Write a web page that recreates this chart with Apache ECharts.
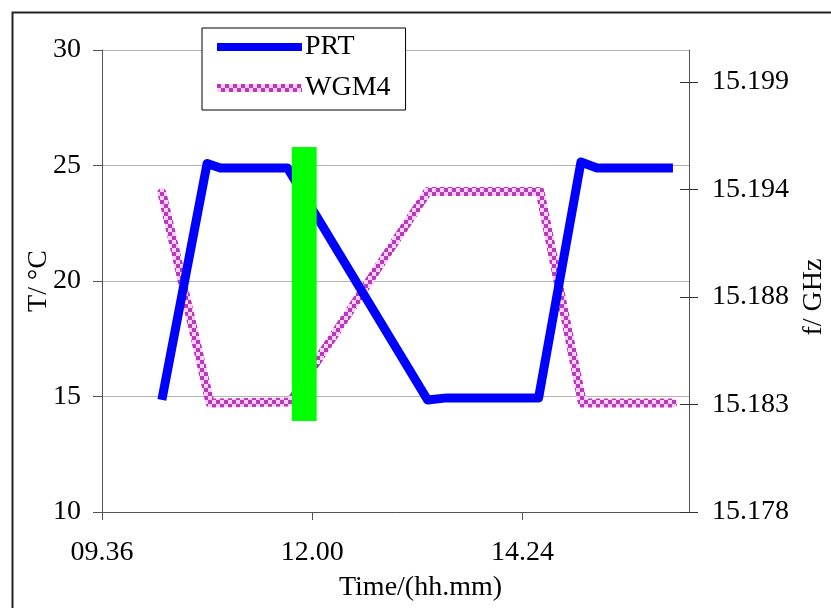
<!DOCTYPE html>
<html>
<head>
<meta charset="utf-8">
<script src="https://cdn.jsdelivr.net/npm/echarts@6/dist/echarts.min.js"></script>
<style>
html,body{margin:0;padding:0;background:#fff;}
#chart{width:831px;height:608px;}
</style>
</head>
<body>
<div id="chart"></div>
<script>
// ---- data (time as hh:mm) ----
var prtTimes = ['10:17','10:48','10:57','11:43','13:19','13:32','14:35','15:04','15:15','16:07'];
var prtValues = [14.85, 25.09, 24.89, 24.89, 14.85, 14.94, 14.94, 25.15, 24.89, 24.89];

var wgmTimes = ['10:17','10:50','11:45','13:19','14:36','15:05','16:07'];
var wgmValues = [15.19354, 15.18297, 15.18302, 15.19359, 15.19359, 15.18297, 15.18297];

var xTickTimes = ['09:36','12:00','14:24'];
var xRange = ['09:36','16:18'];
var leftTicks = [10, 15, 20, 25, 30];
var rightTickValues = [15.1775, 15.1829, 15.1883, 15.1937, 15.1991];
var rightTickLabels = ['15.178','15.183','15.188','15.194','15.199'];
var rightRange = [15.1775, 15.2007];
var marker = { start: '11:46', end: '12:03', low: 13.94, high: 25.8 };

function toMin(t){ var p = t.split(':'); return (+p[0])*60 + (+p[1]); }
function fmtMin(m){ var h = Math.floor(m/60), mm = Math.round(m%60); return (h<10?'0':'')+h+'.'+(mm<10?'0':'')+mm; }

var prtData = prtTimes.map(function(t,i){ return [toMin(t), prtValues[i]]; });
var wgmData = wgmTimes.map(function(t,i){ return [toMin(t), wgmValues[i]]; });
var xTicks = xTickTimes.map(toMin);

// checker pattern
var pc = document.createElement('canvas');
pc.width = 8; pc.height = 8;
var cx = pc.getContext('2d');
cx.fillStyle = '#ffccff'; cx.fillRect(0,0,8,8);
cx.fillStyle = '#b43cb4'; cx.fillRect(0,0,4,4); cx.fillRect(4,4,4,4);
var checker = { image: pc, repeat: 'repeat' };

var FONT = 'Liberation Serif';
var chart = echarts.init(document.getElementById('chart'), null, {renderer:'canvas'});
chart.setOption({
  animation: false,
  backgroundColor: '#fff',
  textStyle: { fontFamily: FONT, color: '#000' },
  grid: { left: 102, top: 50, width: 587, height: 462, containLabel: false, outerBoundsMode: 'none' },
  legend: {
    data: ['PRT','WGM4'],
    orient: 'vertical', left: 202, top: 28,
    backgroundColor: '#fff',
    borderColor: '#000', borderWidth: 1,
    padding: [5, 15, 8, 15],
    itemGap: 13, itemWidth: 85, itemHeight: 8,
    icon: 'rect',
    textStyle: { fontFamily: FONT, fontSize: 28, color: '#000', padding: [0,0,0,-2] }
  },
  graphic: [{
    type: 'rect', left: 10, top: 10, silent: true, z: 100,
    shape: { x: 0, y: 0, width: 900, height: 700 },
    style: { fill: 'none', stroke: '#222', lineWidth: 2 }
  }],
  xAxis: {
    type: 'value', min: toMin(xRange[0]), max: toMin(xRange[1]), interval: 144,
    name: 'Time/(hh.mm)', nameLocation: 'middle', nameGap: 62,
    nameTextStyle: { fontFamily: FONT, fontSize: 28, color: '#000', padding: [0,0,0,50] },
    axisLine: { show: true, onZero: false, lineStyle: { color: '#555', width: 1 } },
    axisTick: { show: true, length: 8, customValues: xTicks, lineStyle: { color: '#555' } },
    axisLabel: { customValues: xTicks, margin: 27, fontFamily: FONT, fontSize: 28, color: '#000',
      formatter: function(v){ return xTicks.indexOf(v) >= 0 ? fmtMin(v) : ''; } },
    splitLine: { show: false }
  },
  yAxis: [{
    type: 'value', min: leftTicks[0], max: leftTicks[leftTicks.length-1], interval: 5,
    position: 'left',
    name: 'T/ °C', nameLocation: 'middle', nameGap: 49, nameRotate: 90, nameMoveOverlap: false,
    nameTextStyle: { fontFamily: FONT, fontSize: 28, color: '#000' },
    axisLine: { show: true, lineStyle: { color: '#555', width: 1 } },
    axisTick: { show: true, length: 9, lineStyle: { color: '#555' } },
    axisLabel: { margin: 21, fontFamily: FONT, fontSize: 28, color: '#000' },
    splitLine: { show: true, lineStyle: { color: '#b4b4b4', width: 1 } }
  }, {
    type: 'value', min: rightRange[0], max: rightRange[1],
    position: 'right',
    name: 'f/ GHz', nameLocation: 'middle', nameGap: 109, nameRotate: 90,
    nameTextStyle: { fontFamily: FONT, fontSize: 28, color: '#000', padding: [0,32,0,0] },
    axisLine: { show: true, lineStyle: { color: '#555', width: 1 } },
    axisTick: { show: true, length: 9, customValues: rightTickValues, lineStyle: { color: '#333' } },
    axisLabel: { margin: 23, customValues: rightTickValues, fontFamily: FONT, fontSize: 28, color: '#000',
      formatter: function(v){
        var best = 0, d = Infinity;
        for (var i=0;i<rightTickValues.length;i++){ var dd = Math.abs(rightTickValues[i]-v); if (dd<d){d=dd;best=i;} }
        return rightTickLabels[best];
      } },
    splitLine: { show: false }
  }, {
    type: 'value', min: rightRange[0], max: rightRange[1],
    position: 'right',
    axisLine: { show: false },
    axisTick: { show: true, inside: true, length: 9, customValues: rightTickValues, lineStyle: { color: '#333' } },
    axisLabel: { show: false },
    splitLine: { show: false }
  }],
  series: [{
    name: 'PRT', type: 'line', xAxisIndex: 0, yAxisIndex: 0,
    data: prtData, showSymbol: false, symbol: 'none',
    itemStyle: { color: '#0000ff' },
    lineStyle: { color: '#0000ff', width: 9, join: 'round' },
    z: 3
  }, {
    name: 'WGM4', type: 'line', xAxisIndex: 0, yAxisIndex: 1,
    data: wgmData, showSymbol: false, symbol: 'none',
    itemStyle: { color: checker },
    lineStyle: { color: checker, width: 9, join: 'round', cap: 'round' },
    z: 2
  }, {
    name: 'marker', type: 'line', xAxisIndex: 0, yAxisIndex: 0,
    data: [], z: 10,
    markArea: {
      silent: true, z: 10,
      itemStyle: { color: '#00ff00', opacity: 1 },
      data: [[ { coord: [toMin(marker.start), marker.low] }, { coord: [toMin(marker.end), marker.high] } ]]
    }
  }]
});
</script>
</body>
</html>
